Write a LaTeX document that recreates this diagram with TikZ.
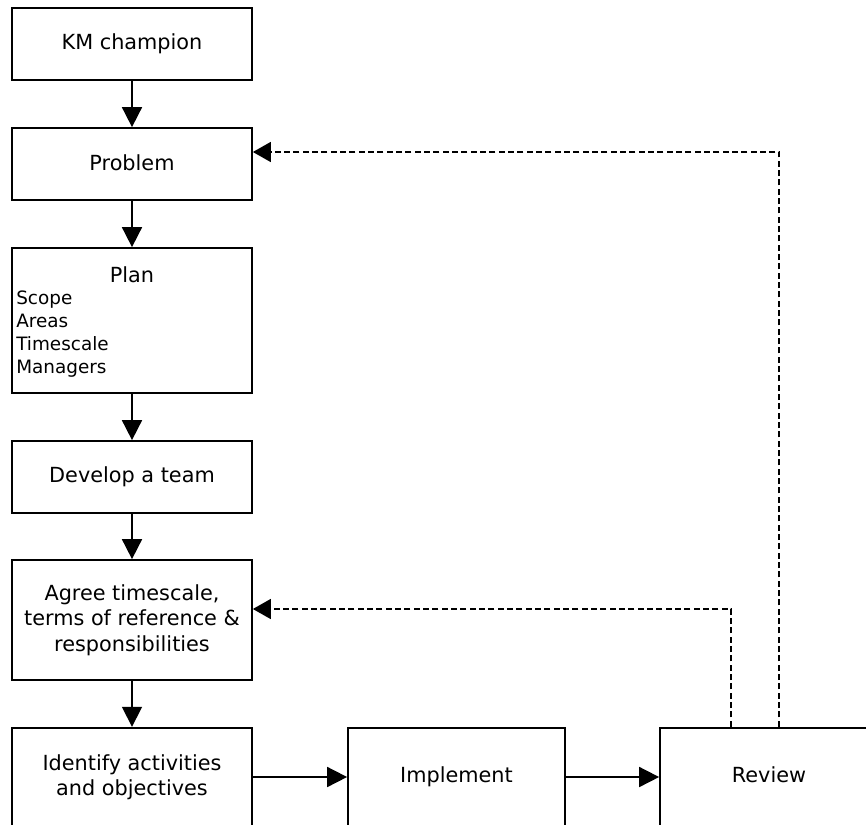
\documentclass[tikz,border=0pt]{standalone}
\usepackage{fontspec}
\setmainfont{DejaVu Sans}
\usetikzlibrary{arrows.meta,calc}
\tikzset{
  x=0.75pt, y=-0.75pt,
  box/.style={draw, line width=1.3pt, minimum width=180pt, minimum height=54pt,
    inner sep=0pt, align=center, font=\fontsize{15.6}{19}\selectfont},
  listtxt/.style={anchor=base west, inner sep=0pt, font=\fontsize{13.8}{17}\selectfont},
  flow/.style={line width=1.3pt, -{Triangle[length=15pt,width=15pt]}},
  back/.style={line width=1.1pt, dash pattern=on 4.5pt off 2.5pt,
    -{Triangle[length=13.5pt,width=15pt]}}
}
\begin{document}
\begin{tikzpicture}
\useasboundingbox (0,0) rectangle (866,824);
\clip (0,0) rectangle (866,824);
\node[box] (km) at (132,44) {\raisebox{2.5pt}{KM champion}};
\node[box] (problem) at (132,164) {\raisebox{2.5pt}{Problem}};
\node[box, minimum height=108.75pt] (plan) at (132,320.5) {};
\node[anchor=base, inner sep=0pt, font=\fontsize{15.6}{19}\selectfont] (plantitle) at (132,282) {Plan};
\node[listtxt] (scope) at (16,304) {Scope};
\node[listtxt] (areas) at (16,327) {Areas};
\node[listtxt] (timescale) at (16,350) {Timescale};
\node[listtxt] (managers) at (16,373) {Managers};
\node[box] (team) at (132,477) {\raisebox{2.5pt}{Develop a team}};
\node[box, minimum height=90pt] (agree) at (132,620) {Agree timescale,\\terms of reference \&\\responsibilities};
\node[box, minimum height=74pt] (identify) at (132,777) {\raisebox{3pt}{\shortstack{Identify activities\\[1pt]and objectives}}};
\node[box, minimum width=162.75pt, minimum height=74pt] (implement) at (456.5,777) {\raisebox{4pt}{Implement}};
\node[box, minimum width=163.5pt, minimum height=74pt] (review) at (769,777) {\raisebox{4pt}{Review}};
\draw[flow] (km) -- (problem);
\draw[flow] (problem) -- (plan);
\draw[flow] (plan) -- (team);
\draw[flow] (team) -- (agree);
\draw[flow] (agree) -- (identify);
\draw[flow] (identify) -- (implement);
\draw[flow] (implement) -- (review);
\draw[back] ([xshift=54pt]review.north west) |- ([yshift=8.25pt]agree.east);
\draw[back] ([xshift=90pt]review.north west) |- ([yshift=9pt]problem.east);
\end{tikzpicture}
\end{document}
